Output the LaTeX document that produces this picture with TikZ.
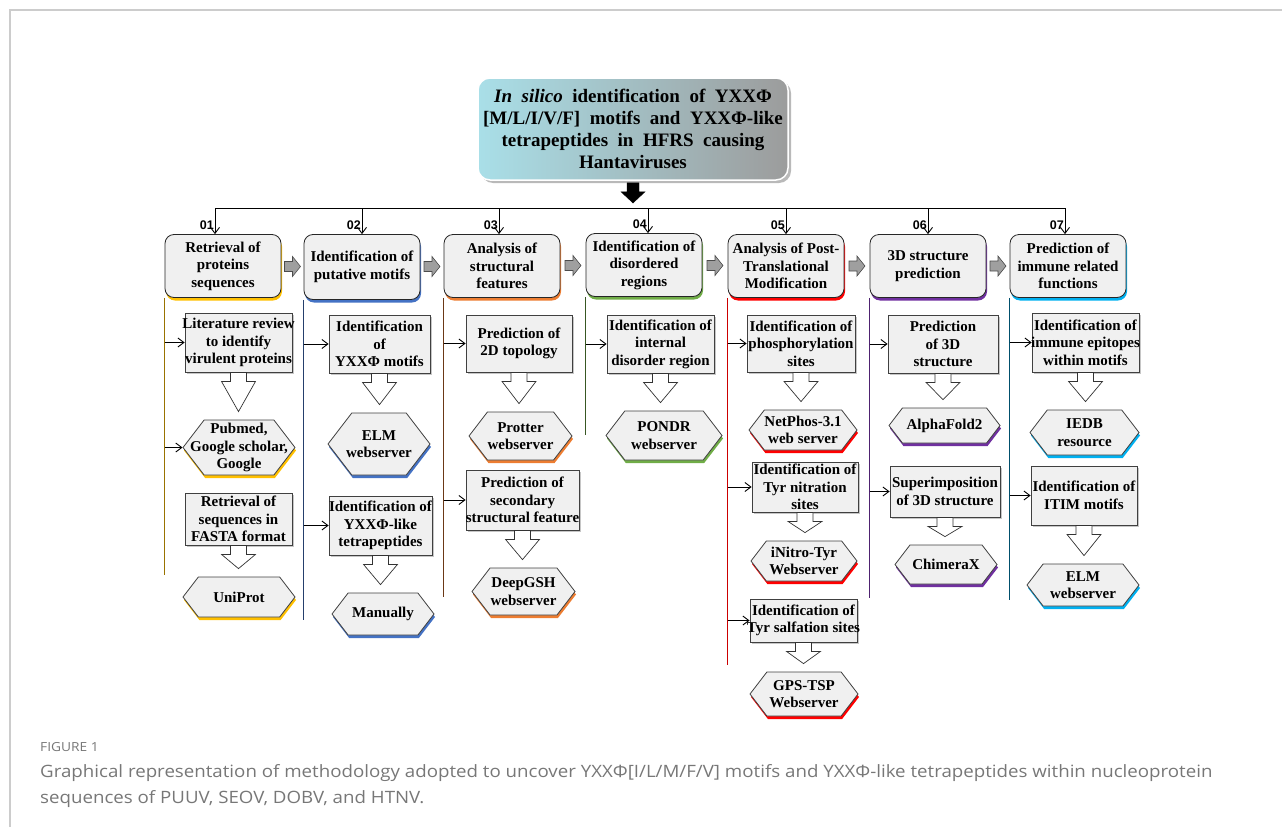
\documentclass[tikz,border=0pt]{standalone}
\usepackage{fontspec}
\setmainfont{Liberation Serif}
\newfontfamily\capfont[FakeStretch=1.1]{Open Sans}
\newfontfamily\numfont{Liberation Sans}
\usetikzlibrary{shapes.symbols,shadows,calc,arrows.meta}

\definecolor{boxgray}{HTML}{F0F0F0}
\definecolor{framegray}{HTML}{CCCCCC}
\definecolor{capgray}{HTML}{777777}
\definecolor{tcyan}{HTML}{A9DFE8}
\definecolor{tgray}{HTML}{9C9C9C}
\definecolor{ylw}{HTML}{FFC000}
\definecolor{blu}{HTML}{4472C4}
\definecolor{org}{HTML}{ED7D31}
\definecolor{grn}{HTML}{70AD47}
\definecolor{rd}{HTML}{FF0000}
\definecolor{prp}{HTML}{7030A0}
\definecolor{cyn}{HTML}{00B0F0}

\newcommand{\boxfont}{\fontsize{15}{17.5}\selectfont\bfseries}
\newcommand{\titlefont}{\fontsize{19}{22}\selectfont\bfseries\spaceskip=0.5em plus 0.1em\relax}

% gray arrow between two heading boxes
\newcommand{\sidearrow}[2]{%
\draw[fill=gray!75, draw=black!70, line width=.6pt]
  let \p1=($(#1.east)!0.5!(#2.west)$) in
  (\x1-8pt,\y1+5pt) -- (\x1,\y1+5pt) -- (\x1,\y1+10pt) -- (\x1+8pt,\y1)
  -- (\x1,\y1-10pt) -- (\x1,\y1-5pt) -- (\x1-8pt,\y1-5pt) -- cycle;}

% white block arrow from a box down to a hexagon
\newcommand{\blockdown}[2]{%
\draw[fill=white, draw=black!80, line width=.7pt]
  let \p1=(#1.south), \p2=(#2.north) in
  (\x1-8pt,\y1) -- (\x1-8pt,\y1-9pt) -- (\x1-17pt,\y1-9pt) -- (\x1,\y2+8pt)
  -- (\x1+17pt,\y1-9pt) -- (\x1+8pt,\y1-9pt) -- (\x1+8pt,\y1) -- cycle;}

\begin{document}
\begin{tikzpicture}[x=1pt,y=-1pt,>={Straight Barb[length=6pt,width=9pt]}]
\tikzstyle{title}=[rounded corners=12pt, minimum width=310pt, minimum height=102pt,
left color=tcyan, right color=tgray, draw=white, line width=1.5pt, align=center,
font=\titlefont,
drop shadow={opacity=.55, shadow xshift=3pt, shadow yshift=-3pt}]
\tikzstyle{glow}=[drop shadow={fill=#1, opacity=1, shadow xshift=1pt, shadow yshift=-3pt}]
\tikzstyle{head}=[draw=black!85, fill=boxgray, rounded corners=9pt, line width=.8pt,
minimum width=116pt, minimum height=63pt, align=center, font=\boxfont, inner sep=2pt]
\tikzstyle{sub}=[draw=black!75, fill=boxgray, line width=.8pt, align=center,
font=\boxfont, inner ysep=1pt, inner xsep=-3pt,
drop shadow={opacity=.45, shadow xshift=2pt, shadow yshift=-2pt}]
\tikzstyle{hex}=[signal, signal to=east and west, signal pointer angle=105,
draw=black!75, fill=boxgray, line width=.8pt, align=center, font=\boxfont,
inner ysep=1pt, inner xsep=-14pt]
\tikzstyle{num}=[font=\numfont\fontsize{12.5}{13}\selectfont\bfseries, inner sep=0pt]
\tikzstyle{colline}=[line width=1pt, draw=#1]
\tikzstyle{feed}=[->, line width=.9pt]

\useasboundingbox (0,0) rectangle (1282,827);
\draw[framegray, line width=1.2pt] (1282,10) -- (10,10) -- (10,827);

% title
\draw (633,129) node (t) [title] {\textit{In silico} identification of YXXΦ\\
{[M/L/I/V/F]} motifs and YXXΦ-like\\ tetrapeptides in HFRS causing\\ Hantaviruses};
\coordinate (bus) at (633,208);
\draw[fill=black] let \p1=(t.south), \p2=(bus) in
  (\x1-6pt,\y1-2pt) -- (\x1-6pt,\y1-11pt) -- (\x1-12pt,\y1-11pt) -- (\x1,\y2+5pt)
  -- (\x1+12pt,\y1-11pt) -- (\x1+6pt,\y1-11pt) -- (\x1+6pt,\y1-2pt) -- cycle;

% headings
\draw (223,266) node (h1) [head, glow=ylw] {Retrieval of\\ proteins\\ sequences};
\draw (362,267) node (h2) [head, glow=blu, minimum height=65pt] {Identification of\\ putative motifs};
\draw (502,266) node (h3) [head, glow=org] {Analysis of\\ structural\\ features};
\draw (644,265) node (h4) [head, glow=grn] {Identification of\\ disordered\\ regions};
\draw (786,266) node (h5) [head, glow=rd] {Analysis of Post-\\ Translational\\ Modification};
\draw (928,266) node (h6) [head, glow=prp] {3D structure\\ prediction};
\draw (1068,266) node (h7) [head, glow=cyn] {Prediction of\\ immune related\\ functions};

\draw[line width=.9pt] ([xshift=-8pt]h1.north |- bus) -- ([xshift=-3pt]h7.north |- bus);
\foreach \h/\n/\dx in {h1/01/-8,h2/02/0,h3/03/-3,h4/04/4,h5/05/0,h6/06/0,h7/07/-3}{
  \draw[feed] ([xshift=\dx pt]\h.north |- bus) -- ([xshift=\dx pt]\h.north);
  \node[num, anchor=south east] at ([xshift=\dx pt-1pt,yshift=4pt]\h.north) {\n};
}
\sidearrow{h1}{h2}
\sidearrow{h2}{h3}
\sidearrow{h3}{h4}
\sidearrow{h4}{h5}
\sidearrow{h5}{h6}
\sidearrow{h6}{h7}

% column 01
\draw (238.5,342.5) node (a1) [sub, minimum width=107pt, minimum height=59pt] {Literature review\\ to identify\\ virulent proteins};
\draw (239,447.5) node (p1) [hex, glow=ylw, minimum width=108pt, minimum height=55pt] {Pubmed,\\ Google scholar,\\ Google};
\draw (238.5,519) node (b1) [sub, minimum width=107pt, minimum height=52pt] {Retrieval of\\ sequences in\\ FASTA format};
\draw (239,597) node (q1) [hex, glow=ylw, minimum width=112pt, minimum height=40pt] {UniProt};
\draw[colline=ylw!60!black] (h1.south west) -- (h1.south west |- 0,575);
\draw[feed] (h1.south west |- a1.west) -- (a1.west);
\draw[feed] (h1.south west |- p1.west) -- (p1.west);
\blockdown{a1}{p1}
\blockdown{b1}{q1}

% column 02
\draw (379.5,344) node (a2) [sub, minimum width=101pt, minimum height=58pt] {Identification\\ of\\ YXXΦ motifs};
\draw (379,444) node (p2) [hex, glow=blu, minimum width=102pt, minimum height=62pt] {ELM\\ webserver};
\draw (380.5,525.5) node (b2) [sub, minimum width=103pt, minimum height=59pt] {Identification of\\ YXXΦ-like\\ tetrapeptides};
\draw (383,614) node (q2) [hex, glow=blu, minimum width=102pt, minimum height=42pt] {Manually};
\draw[colline=blu!55!black] (h2.south west) -- (h2.south west |- 0,620);
\draw[feed] (h2.south west |- a2.west) -- (a2.west);
\draw[feed] (h2.south west |- b2.west) -- (b2.west);
\blockdown{a2}{p2}
\blockdown{b2}{q2}

% column 03
\draw (519,343.5) node (a3) [sub, minimum width=106pt, minimum height=57pt] {Prediction of\\ 2D topology};
\draw (520.5,436) node (p3) [hex, glow=org, minimum width=103pt, minimum height=48pt] {Protter\\ webserver};
\draw (522.5,500) node (b3) [sub, minimum width=113pt, minimum height=60pt] {Prediction of\\ secondary\\ structural feature};
\draw (523.5,591.5) node (q3) [hex, glow=org, minimum width=103pt, minimum height=47pt] {DeepGSH\\ webserver};
\draw[colline=org!45!black] (h3.south west) -- (h3.south west |- 0,597);
\draw[feed] (h3.south west |- a3.west) -- (a3.west);
\draw[feed] (h3.south west |- b3.west) -- (b3.west);
\blockdown{a3}{p3}
\blockdown{b3}{q3}

% column 04
\draw (660.5,344) node (a4) [sub, minimum width=107pt, minimum height=58pt] {Identification of\\ internal\\ disorder region};
\draw (664,435.5) node (p4) [hex, glow=grn, minimum width=116pt, minimum height=49pt] {PONDR\\ webserver};
\draw[colline=grn!50!black] (h4.south west) -- (h4.south west |- 0,435);
\draw[feed] (h4.south west |- a4.west) -- (a4.west);
\blockdown{a4}{p4}

% column 05
\draw (801,343.5) node (a5) [sub, minimum width=108pt, minimum height=57pt] {Identification of\\ phosphorylation\\ sites};
\draw (803,430) node (p5) [hex, glow=rd, minimum width=108pt, minimum height=40pt] {NetPhos-3.1\\ web server};
\draw (805,487) node (b5) [sub, minimum width=106pt, minimum height=50pt] {Identification of\\ Tyr nitration\\ sites};
\draw (804,561) node (q5) [hex, glow=rd, minimum width=106pt, minimum height=40pt] {iNitro-Tyr\\ Webserver};
\draw (803.5,620.5) node (c5) [sub, minimum width=107pt, minimum height=43pt] {Identification of\\ Tyr salfation sites};
\draw (804,694) node (r5) [hex, glow=rd, minimum width=108pt, minimum height=44pt] {GPS-TSP\\ Webserver};
\draw[colline=rd!80!black] (h5.south west) -- (h5.south west |- 0,665);
\draw[feed] (h5.south west |- a5.west) -- (a5.west);
\draw[feed] (h5.south west |- b5.west) -- (b5.west);
\draw[feed] (h5.south west |- c5.west) -- (c5.west);
\blockdown{a5}{p5}
\blockdown{b5}{q5}
\blockdown{c5}{r5}

% column 06
\draw (943,344) node (a6) [sub, minimum width=110pt, minimum height=58pt] {Prediction\\ of 3D\\ structure};
\draw (944.5,425.5) node (p6) [hex, glow=prp, minimum width=111pt, minimum height=35pt] {AlphaFold2};
\draw (945,491.5) node (b6) [sub, minimum width=110pt, minimum height=51pt] {Superimposition\\ of 3D structure};
\draw (946,564.5) node (q6) [hex, glow=prp, minimum width=102pt, minimum height=39pt] {ChimeraX};
\draw[colline=prp!70!black] (h6.south west) -- (h6.south west |- 0,598);
\draw[feed] (h6.south west |- a6.west) -- (a6.west);
\draw[feed] (h6.south west |- b6.west) -- (b6.west);
\blockdown{a6}{p6}
\blockdown{b6}{q6}

% column 07
\draw (1085.5,342.5) node (a7) [sub, minimum width=107pt, minimum height=59pt] {Identification of\\ immune epitopes\\ within motifs};
\draw (1084.5,432.5) node (p7) [hex, glow=cyn, minimum width=109pt, minimum height=45pt] {IEDB\\ resource};
\draw (1084,495.5) node (b7) [sub, minimum width=106pt, minimum height=59pt] {Identification of\\ ITIM motifs};
\draw (1083,585) node (q7) [hex, glow=cyn, minimum width=112pt, minimum height=42pt] {ELM\\ webserver};
\draw[colline=cyn!45!black] (h7.south west) -- (h7.south west |- 0,600);
\draw[feed] (h7.south west |- a7.west) -- (a7.west);
\draw[feed] (h7.south west |- b7.west) -- (b7.west);
\blockdown{a7}{p7}
\blockdown{b7}{q7}

% caption
\draw (40,747) node (fig) [anchor=west, inner sep=0pt, text=capgray, font=\capfont\fontsize{12.5}{14}\selectfont] {FIGURE 1};
\draw (40,764) node (cap) [anchor=north west, align=left, inner sep=0pt, text=capgray,
font=\capfont\fontsize{17}{26}\selectfont] {Graphical representation of methodology adopted to uncover YXXΦ[I/L/M/F/V] motifs and YXXΦ-like tetrapeptides within nucleoprotein\\ sequences of PUUV, SEOV, DOBV, and HTNV.};
\end{tikzpicture}
\end{document}
